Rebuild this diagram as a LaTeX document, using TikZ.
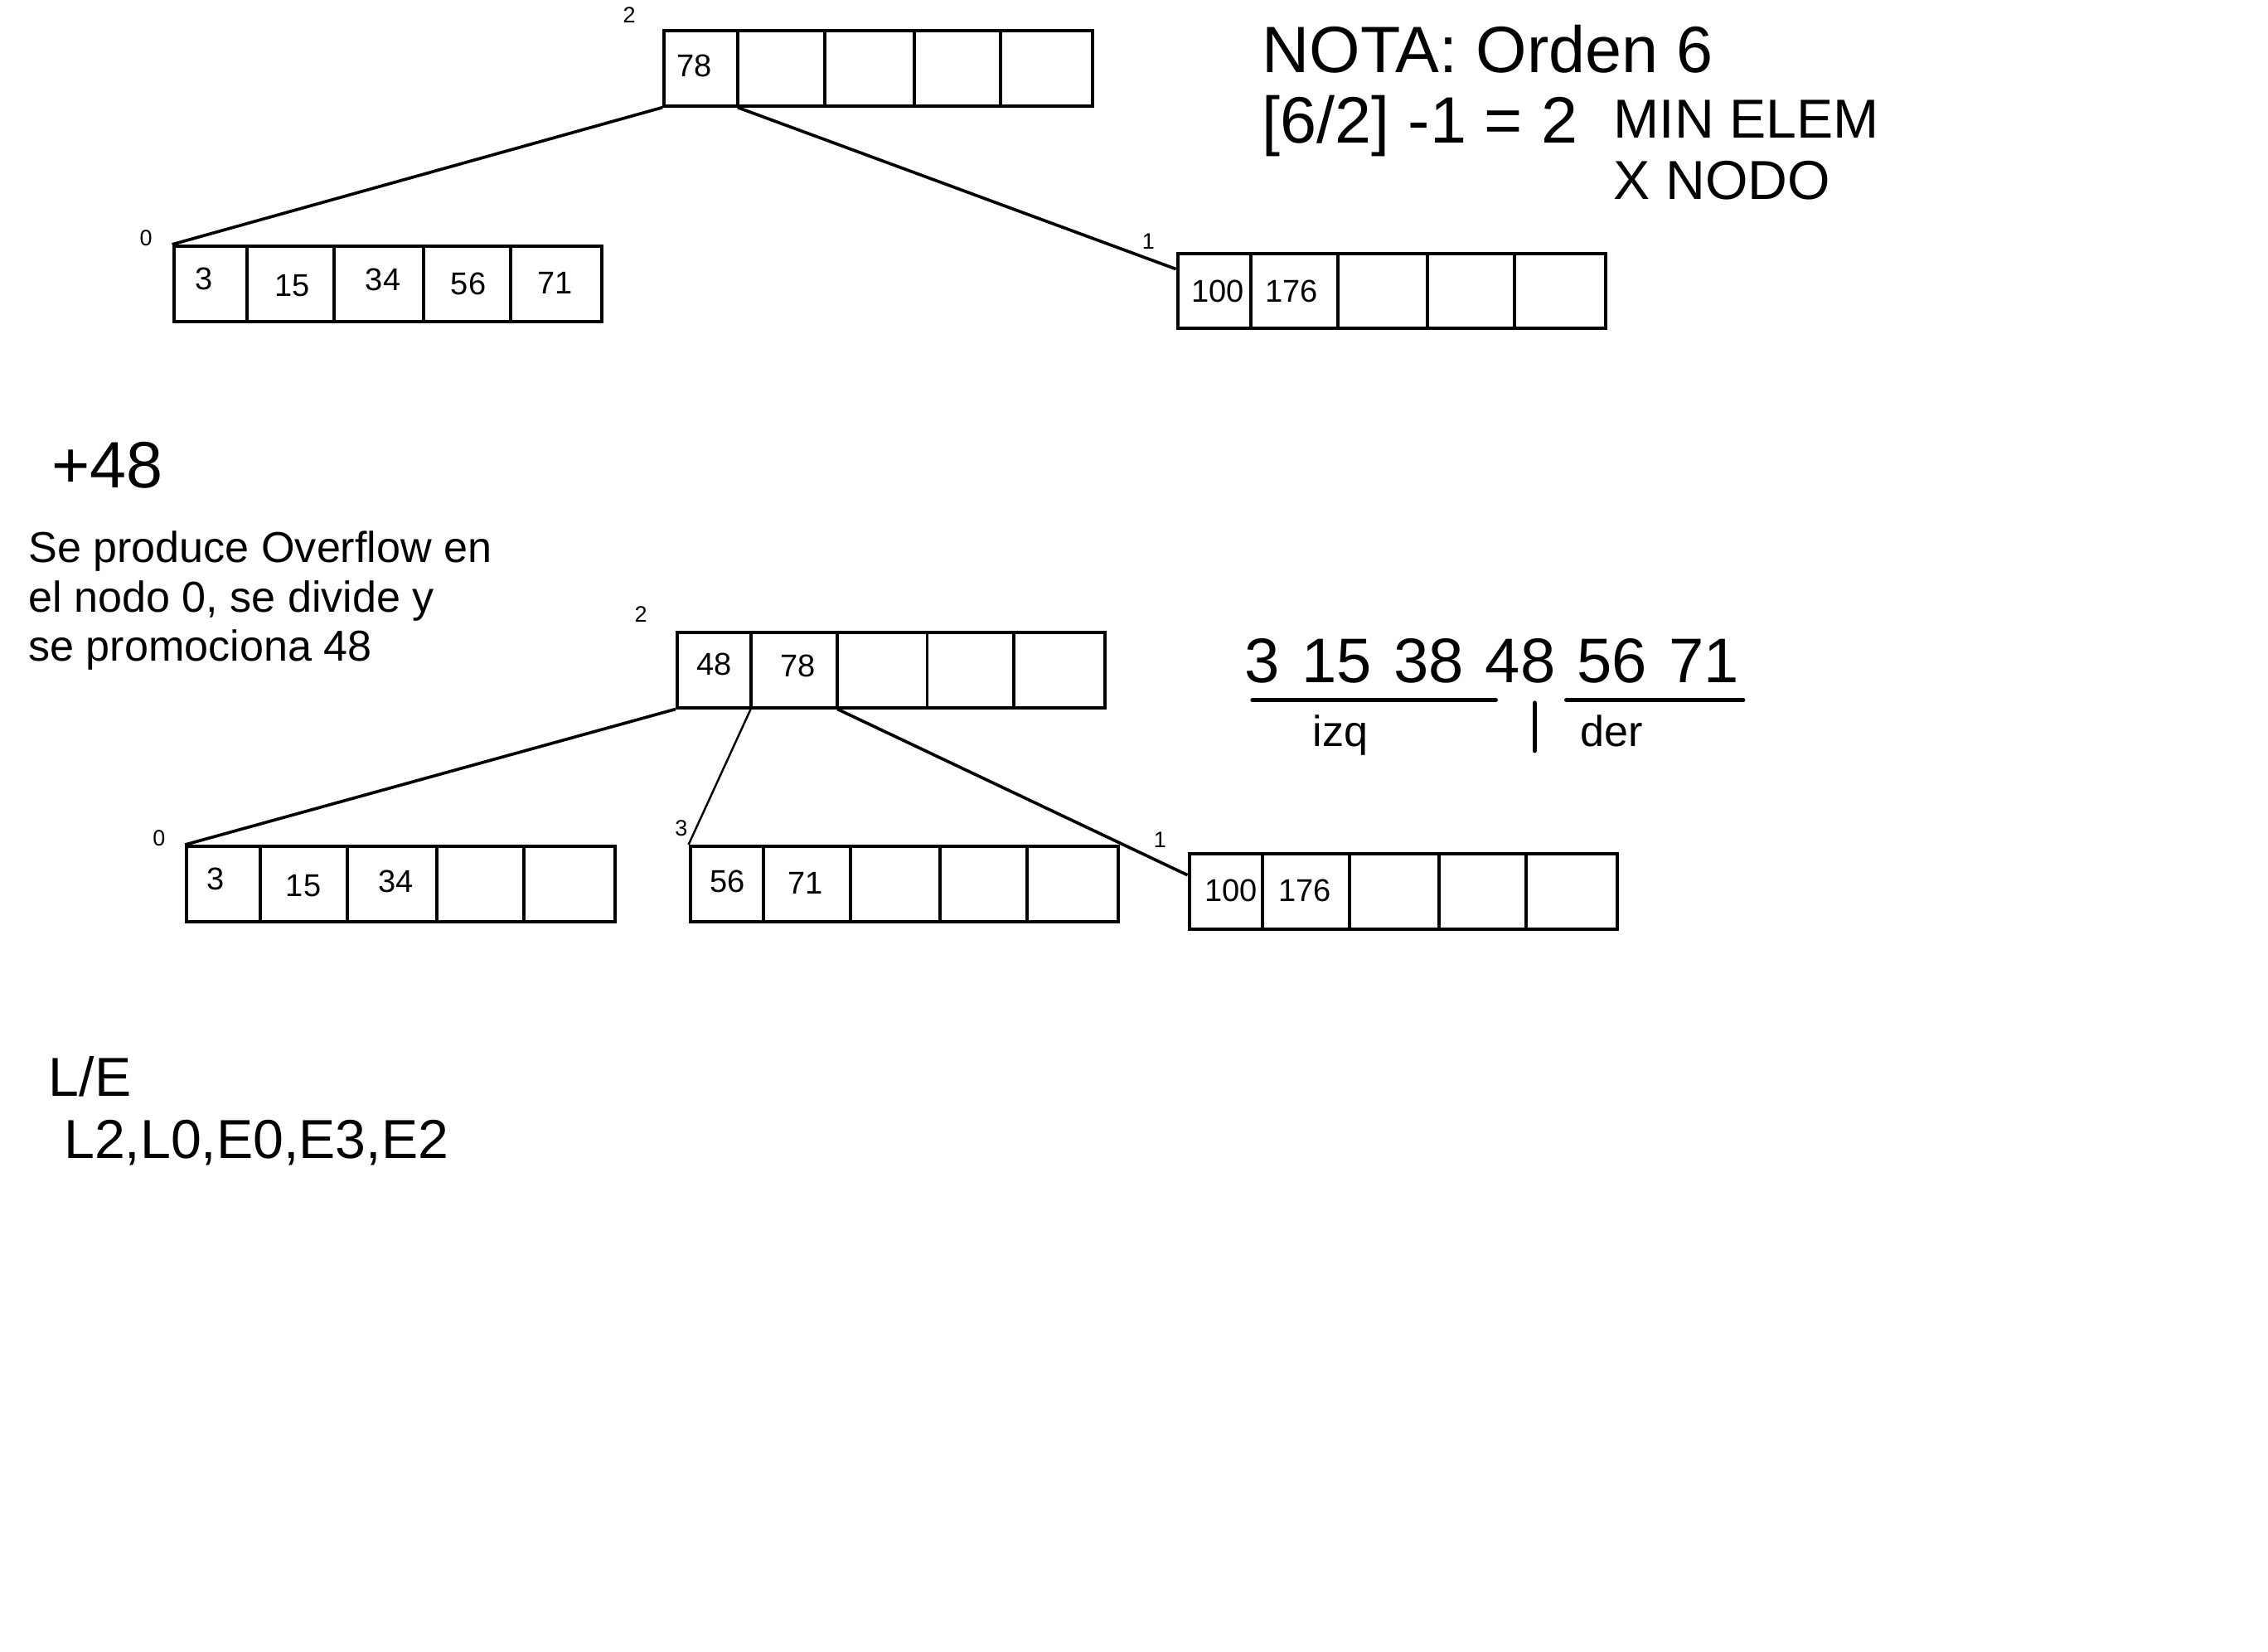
\documentclass[tikz,border=0pt]{standalone}
\usepackage{fontspec}
\setmainfont{Liberation Sans}

\begin{document}
\begin{tikzpicture}[x=1cm,y=-1cm,
	caja/.style={draw,line width=0.65pt,anchor=north west,inner sep=0pt,minimum width=2.96cm,minimum height=0.52cm},
	num/.style={anchor=base west,inner sep=0pt,font=\fontsize{6.2}{7}\selectfont},
	etiq/.style={anchor=base west,inner sep=0pt,font=\fontsize{4.4}{5}\selectfont},
	rama/.style={line width=0.6pt},
	grande/.style={anchor=base west,inner sep=0pt,font=\fontsize{12.9}{15}\selectfont},
	medio/.style={anchor=base west,inner sep=0pt,font=\fontsize{10.8}{12.2}\selectfont},
	chico/.style={anchor=base west,inner sep=0pt,align=left,font=\fontsize{8.5}{9.67}\selectfont},
	raya/.style={line width=0.9pt,line cap=round}]
	\useasboundingbox (0,0) rectangle (15.68,11.42);

	% arbol antes de insertar
	\node[caja] (r2) at (4.58,0.20) {};
	\node[caja] (a0) at (1.19,1.69) {};
	\node[caja] (a1) at (8.13,1.74) {};
	\foreach \n in {r2,a0,a1}
		\foreach \d in {0.52,1.12,1.74,2.34}
			\draw[line width=0.65pt] ([xshift=\d cm]\n.north west) -- ([xshift=\d cm]\n.south west);
	\node[etiq] (l2) at (4.30,0.16) {2};
	\node[etiq] (l0) at (0.96,1.70) {0};
	\node[etiq] (l1) at (7.89,1.72) {1};
	\node[num] (v78) at (4.67,0.53) {78};
	\node[num] (v3) at (1.34,2.00) {3};
	\node[num] (v15) at (1.89,2.05) {15};
	\node[num] (v34) at (2.52,2.01) {34};
	\node[num] (v56) at (3.11,2.04) {56};
	\node[num] (v71) at (3.71,2.03) {71};
	\node[num] (v100) at (8.23,2.09) {100};
	\node[num] (v176) at (8.74,2.09) {176};
	\coordinate (r2p1) at ([xshift=0.52cm]r2.south west);
	\draw[rama] (r2.south west) -- (a0.north west);
	\draw[rama] (r2p1) -- ([yshift=-0.12cm]a1.north west);

	\node[grande] (nota) at (8.72,0.50) {NOTA: Orden 6};
	\node[grande] (cuenta) at (8.72,0.99) {[6/2] -1 = 2};
	\node[medio,align=left] (minelem) at (11.15,1.38) {MIN ELEM\\X NODO};

	% insercion
	\node[grande] (mas48) at (0.35,3.37) {+48};
	\node[chico] (texto) at (0.19,4.57) {Se produce Overflow en\\el nodo 0, se divide y\\se promociona 48};

	% arbol despues de dividir
	\node[caja] (b2) at (4.67,4.36) {};
	\node[caja] (c0) at (1.28,5.84) {};
	\node[caja] (c3) at (4.76,5.84) {};
	\node[caja] (c1) at (8.21,5.89) {};
	\foreach \n in {b2,c0,c3,c1}
		\foreach \d in {0.52,1.12,1.74,2.34}
			\draw[line width=0.65pt] ([xshift=\d cm]\n.north west) -- ([xshift=\d cm]\n.south west);
	\node[etiq] (m2) at (4.38,4.30) {2};
	\node[etiq] (m0) at (1.05,5.85) {0};
	\node[etiq] (m3) at (4.66,5.78) {3};
	\node[etiq] (m1) at (7.97,5.86) {1};
	\node[num] (w48) at (4.81,4.67) {48};
	\node[num] (w78) at (5.39,4.68) {78};
	\node[num] (w3) at (1.42,6.15) {3};
	\node[num] (w15) at (1.97,6.20) {15};
	\node[num] (w34) at (2.61,6.17) {34};
	\node[num] (w56) at (4.90,6.17) {56};
	\node[num] (w71) at (5.44,6.18) {71};
	\node[num] (w100) at (8.32,6.23) {100};
	\node[num] (w176) at (8.83,6.23) {176};
	\coordinate (b2p1) at ([xshift=0.52cm]b2.south west);
	\coordinate (b2p2) at ([xshift=1.12cm]b2.south west);
	\draw[rama] (b2.south west) -- (c0.north west);
	\draw[rama,line width=0.4pt] (b2p1) -- (c3.north west);
	\draw[rama] (b2p2) -- ([yshift=-0.16cm]c1.north west);

	% reparto
	\node[grande,font=\fontsize{12.4}{15}\selectfont] (claves) at (8.60,4.72) {\spaceskip=0.15cm\relax 3 15 38 48 56 71};
	\draw[raya] (8.66,4.84) -- (10.34,4.84);
	\draw[raya] (10.83,4.84) -- (12.05,4.84);
	\draw[raya] (10.61,4.86) -- (10.61,5.19);
	\node[chico] (izq) at (9.07,5.16) {izq};
	\node[chico] (der) at (10.92,5.16) {der};

	\node[medio,align=left] (le) at (0.33,8.01) {L/E\\\ L2,L0,E0,E3,E2};
\end{tikzpicture}
\end{document}
